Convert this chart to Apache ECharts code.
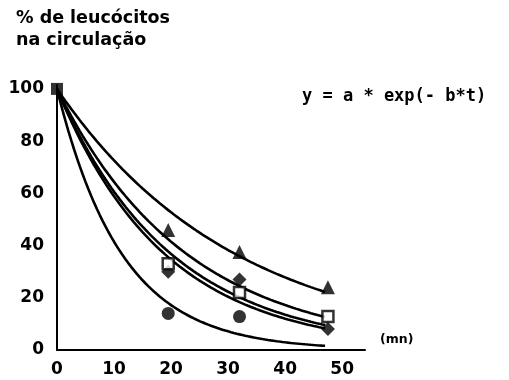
<!DOCTYPE html>
<html>
<head>
<meta charset="utf-8">
<script src="https://cdn.jsdelivr.net/npm/echarts@6/dist/echarts.min.js"></script>
<style>
  html, body { margin: 0; padding: 0; background: #fff; }
  #chart { width: 509px; height: 380px; }
</style>
</head>
<body>
<div id="chart"></div>
<script>
// Sampling times (mn) and measured % of leukocytes in circulation
const timesMeasured = [19.5, 32, 47.5];
const triangleVals = [46, 37.5, 24];
const squareVals = [33, 22, 12.8];
const diamondVals = [30, 27, 8];
const circleVals = [14, 12.8];
const startPoint = [0, 100];

// Fitted model y = a * exp(-b*t), one pair of parameters per curve
const fitA = [100, 100, 100, 100, 100];
const fitB = [0.032, 0.044, 0.050, 0.053, 0.088];
const fitEnd = 47;

// Axis ticks
const xTicks = [0, 10, 20, 30, 40, 50];
const yTicks = [0, 20, 40, 60, 80, 100];

function fitCurve(a, b) {
  const pts = [];
  for (let t = 0; t <= fitEnd + 1e-9; t += 0.5) {
    pts.push([t, a * Math.exp(-b * t)]);
  }
  return pts;
}

const FONT = 'DejaVu Sans';
const MONO = 'DejaVu Sans Mono';
const lineSeries = fitA.map((a, i) => ({
  type: 'line',
  data: fitCurve(a, fitB[i]),
  showSymbol: false,
  smooth: false,
  lineStyle: { color: '#000', width: 2.6 },
  z: 2,
  silent: true
}));

const pairs = vals => vals.map((v, i) => [timesMeasured[i], v]);

const chart = echarts.init(document.getElementById('chart'), null, { renderer: 'canvas' });
chart.setOption({
  animation: false,
  backgroundColor: '#fff',
  grid: { left: 57, top: 85, width: 308, height: 265, containLabel: false },
  title: [
    {
      text: '% de leucócitos\nna circulação',
      left: 11, top: 2,
      textStyle: { fontFamily: FONT, fontWeight: 'bold', fontSize: 17.5, lineHeight: 22, color: '#000' }
    }
  ],
  graphic: [
    {
      type: 'text', left: 302, top: 88,
      style: { text: 'y = a * exp(- b*t)', fontFamily: MONO, fontWeight: 'bold', fontSize: 17, fill: '#000' }
    },
    {
      type: 'text', left: 380, top: 333,
      style: { text: '(mn)', fontFamily: FONT, fontWeight: 'bold', fontSize: 12.5, fill: '#000' }
    }
  ],
  xAxis: {
    type: 'value', min: 0, max: 54, interval: 10,
    axisLine: { show: true, onZero: false, lineStyle: { color: '#000', width: 2 } },
    axisTick: { show: false },
    splitLine: { show: false },
    axisLabel: {
      margin: 11, showMaxLabel: false,
      fontFamily: FONT, fontWeight: 'bold', fontSize: 17, color: '#000',
      formatter: v => (xTicks.includes(v) ? String(v) : '')
    }
  },
  yAxis: {
    type: 'value', min: 0, max: 101.5, interval: 20,
    axisLine: { show: true, onZero: false, lineStyle: { color: '#000', width: 2 } },
    axisTick: { show: false },
    splitLine: { show: false },
    axisLabel: {
      margin: 13,
      fontFamily: FONT, fontWeight: 'bold', fontSize: 17, color: '#000',
      formatter: v => (yTicks.includes(v) ? String(v) : '')
    }
  },
  series: [
    ...lineSeries,
    {
      type: 'scatter', data: [startPoint], symbol: 'rect', symbolSize: 12,
      itemStyle: { color: '#000' }, z: 5
    },
    {
      type: 'scatter', data: pairs(triangleVals), symbol: 'triangle', symbolSize: 14,
      itemStyle: { color: '#000' }, z: 5
    },
    {
      type: 'scatter', data: pairs(squareVals), symbol: 'rect', symbolSize: 11,
      itemStyle: { color: '#fff', borderColor: '#000', borderWidth: 2.5 }, z: 6
    },
    {
      type: 'scatter', data: pairs(diamondVals), symbol: 'diamond', symbolSize: 14,
      itemStyle: { color: '#000' }, z: 5
    },
    {
      type: 'scatter', data: pairs(circleVals), symbol: 'circle', symbolSize: 13,
      itemStyle: { color: '#000' }, z: 5
    }
  ]
});
</script>
</body>
</html>
